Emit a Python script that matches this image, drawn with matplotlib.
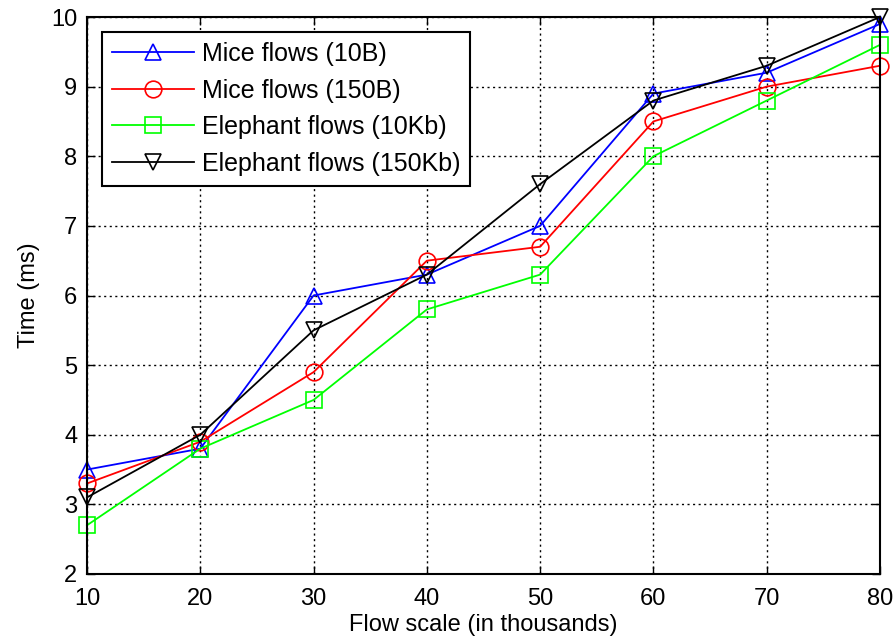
import matplotlib
matplotlib.use("Agg")
import matplotlib.pyplot as plt

plt.rcParams['font.family'] = ['Liberation Sans', 'DejaVu Sans']

x = [10, 20, 30, 40, 50, 60, 70, 80]
mice_10b = [3.5, 3.8, 6.0, 6.3, 7.0, 8.9, 9.2, 9.9]
mice_150b = [3.3, 3.9, 4.9, 6.5, 6.7, 8.5, 9.0, 9.3]
eleph_10kb = [2.7, 3.8, 4.5, 5.8, 6.3, 8.0, 8.8, 9.6]
eleph_150kb = [3.1, 4.0, 5.5, 6.3, 7.6, 8.8, 9.3, 10.0]
labels = ['Mice flows (10B)', 'Mice flows (150B)', 'Elephant flows (10Kb)', 'Elephant flows (150Kb)']

fig = plt.figure(figsize=(8.96, 6.43), dpi=100)
ax = fig.add_axes([87/896, 1-574/643, (880-87)/896, (574-17)/643])

series = [(mice_10b, '#0000ff', '^'), (mice_150b, '#ff0000', 'o'),
          (eleph_10kb, '#00ff00', 's'), (eleph_150kb, '#000000', 'v')]
for (ys, c, m), lab in zip(series, labels):
    ax.plot(x, ys, color=c, marker=m, markersize=12, markerfacecolor='none',
            markeredgecolor=c, markeredgewidth=1.2, linewidth=1.3, label=lab, clip_on=False)

ax.set_xlim(10, 80)
ax.set_ylim(2, 10)
ax.set_xticks(x)
ax.set_yticks(range(2, 11))
ax.grid(True, color='black', linestyle=(0, (1.5, 2.5)), linewidth=1.0)
for s in ax.spines.values():
    s.set_linewidth(1.5)
ax.tick_params(direction='in', labelsize=17, length=6, width=1, top=True, right=True)
ax.tick_params(axis='x', pad=10)
ax.tick_params(axis='y', pad=7)
ax.set_xlabel('Flow scale (in thousands)', fontsize=17, labelpad=3)
ax.set_ylabel('Time (ms)', fontsize=17, labelpad=8)

leg = ax.legend(loc='upper left', bbox_to_anchor=(0.012, 0.982), fontsize=18,
                fancybox=False, framealpha=1, edgecolor='black', handlelength=3.3,
                borderpad=0.4, labelspacing=0.5, handletextpad=0.3, borderaxespad=0.2)
leg.get_frame().set_linewidth(1.5)

fig.savefig('out.png', dpi=100)
